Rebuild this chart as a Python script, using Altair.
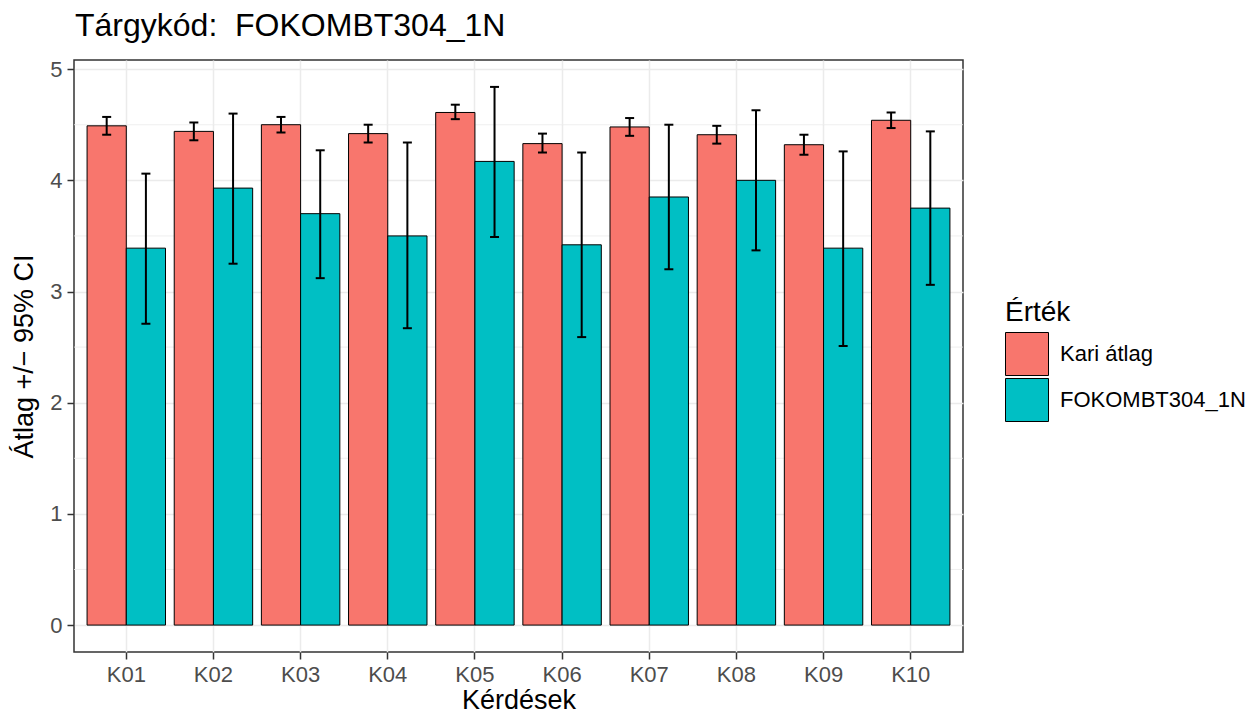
import altair as alt
import pandas as pd

questions = ["K01", "K02", "K03", "K04", "K05", "K06", "K07", "K08", "K09", "K10"]
groups = ["Kari átlag", "FOKOMBT304_1N"]

kari_mean = [4.49, 4.44, 4.50, 4.42, 4.61, 4.33, 4.48, 4.41, 4.32, 4.54]
kari_lo = [4.41, 4.36, 4.43, 4.34, 4.55, 4.25, 4.40, 4.33, 4.23, 4.47]
kari_hi = [4.57, 4.52, 4.57, 4.50, 4.68, 4.42, 4.56, 4.49, 4.41, 4.61]

subj_mean = [3.39, 3.93, 3.70, 3.50, 4.17, 3.42, 3.85, 4.00, 3.39, 3.75]
subj_lo = [2.71, 3.25, 3.12, 2.67, 3.49, 2.59, 3.20, 3.37, 2.51, 3.06]
subj_hi = [4.06, 4.60, 4.27, 4.34, 4.84, 4.25, 4.50, 4.63, 4.26, 4.44]

y_ticks = [0, 1, 2, 3, 4, 5]
minor_ticks = [0.5, 1.5, 2.5, 3.5, 4.5]

title_text = ["Tárgykód:\u00a0 FOKOMBT304_1N"]

rows = []
for i, q in enumerate(questions):
    rows.append({"q": q, "g": groups[0], "m": kari_mean[i], "lo": kari_lo[i], "hi": kari_hi[i]})
    rows.append({"q": q, "g": groups[1], "m": subj_mean[i], "lo": subj_lo[i], "hi": subj_hi[i]})
df = pd.DataFrame(rows)

ymax = max(kari_hi + subj_hi)
ydom = [-0.05 * ymax, ymax * 1.05]

FONT = "Liberation Sans"

x_enc = alt.X(
    "q:N",
    sort=questions,
    scale=alt.Scale(paddingInner=0.1, paddingOuter=0.15),
    axis=alt.Axis(
        title="Kérdések",
        labelAngle=0,
        grid=True,
        domain=False,
        tickSize=7,
        tickWidth=1.5,
        tickColor="#333333",
        labelColor="#4D4D4D",
        labelFontSize=22,
        labelPadding=5,
        titleFontSize=27,
        titleFontWeight="normal",
        titleColor="black",
        titlePadding=2,
    ),
)
xoff = alt.XOffset("g:N", sort=groups, scale=alt.Scale(paddingInner=0, paddingOuter=0))
y_scale = alt.Scale(domain=ydom, nice=False, zero=False)

base = alt.Chart(df)

minor = alt.Chart(pd.DataFrame({"v": minor_ticks})).mark_rule(
    color="#EBEBEB", strokeWidth=0.8
).encode(y=alt.Y("v:Q", scale=y_scale))

bars = base.mark_bar(stroke="black", strokeWidth=1).encode(
    x=x_enc,
    xOffset=xoff,
    y=alt.Y(
        "m:Q",
        scale=y_scale,
        axis=alt.Axis(
            title="Átlag +/− 95% CI",
            values=y_ticks,
            format="d",
            grid=True,
            domain=False,
            tickSize=7,
            tickWidth=1.5,
            tickColor="#333333",
            labelColor="#4D4D4D",
            labelFontSize=22,
            labelPadding=5,
            titleFontSize=27,
            titleFontWeight="normal",
            titleColor="black",
            titlePadding=11,
        ),
    ),
    y2=alt.Y2(datum=0),
    fill=alt.Fill(
        "g:N",
        sort=groups,
        scale=alt.Scale(domain=groups, range=["#F8766D", "#00BFC4"]),
        legend=alt.Legend(title="Érték"),
    ),
)

err = base.mark_rule(color="black", strokeWidth=2).encode(
    x=alt.X("q:N", sort=questions),
    xOffset=xoff,
    y=alt.Y("lo:Q", scale=y_scale),
    y2="hi:Q",
)

cap_lo = base.mark_tick(color="black", thickness=2, size=9, opacity=1).encode(
    x=alt.X("q:N", sort=questions),
    xOffset=xoff,
    y=alt.Y("lo:Q", scale=y_scale),
)
cap_hi = base.mark_tick(color="black", thickness=2, size=9, opacity=1).encode(
    x=alt.X("q:N", sort=questions),
    xOffset=xoff,
    y=alt.Y("hi:Q", scale=y_scale),
)

title_mark = alt.Chart(pd.DataFrame({"t": title_text})).mark_text(
    align="left", baseline="alphabetic", fontSize=32, font=FONT, color="black"
).encode(text="t:N", x=alt.value(1), y=alt.value(-24))

chart = (
    alt.layer(minor, bars, err, cap_lo, cap_hi, title_mark)
    .properties(
        width=889,
        height=592,
        autosize=alt.AutoSizeParams(type="none"),
        padding={"left": 66, "top": 52, "right": 285, "bottom": 62},
    )
    .configure(font=FONT, background="white")
    .configure_view(stroke="#333333", strokeWidth=1.5)
    .configure_axis(gridColor="#EBEBEB", gridWidth=1.5, labelFont=FONT, titleFont=FONT)
    .configure_legend(
        orient="none",
        legendX=931,
        legendY=239,
        padding=0,
        titleFontSize=28,
        titleFontWeight="normal",
        titleColor="black",
        titleFont=FONT,
        titlePadding=5,
        labelFontSize=22,
        labelColor="black",
        labelFont=FONT,
        labelOffset=11,
        labelLimit=0,
        symbolType="square",
        symbolSize=1849,
        symbolStrokeColor="black",
        symbolStrokeWidth=1,
        symbolOpacity=1,
        rowPadding=-8,
    )
)

chart.save("out.html", embed_options={"renderer": "svg", "actions": False})
